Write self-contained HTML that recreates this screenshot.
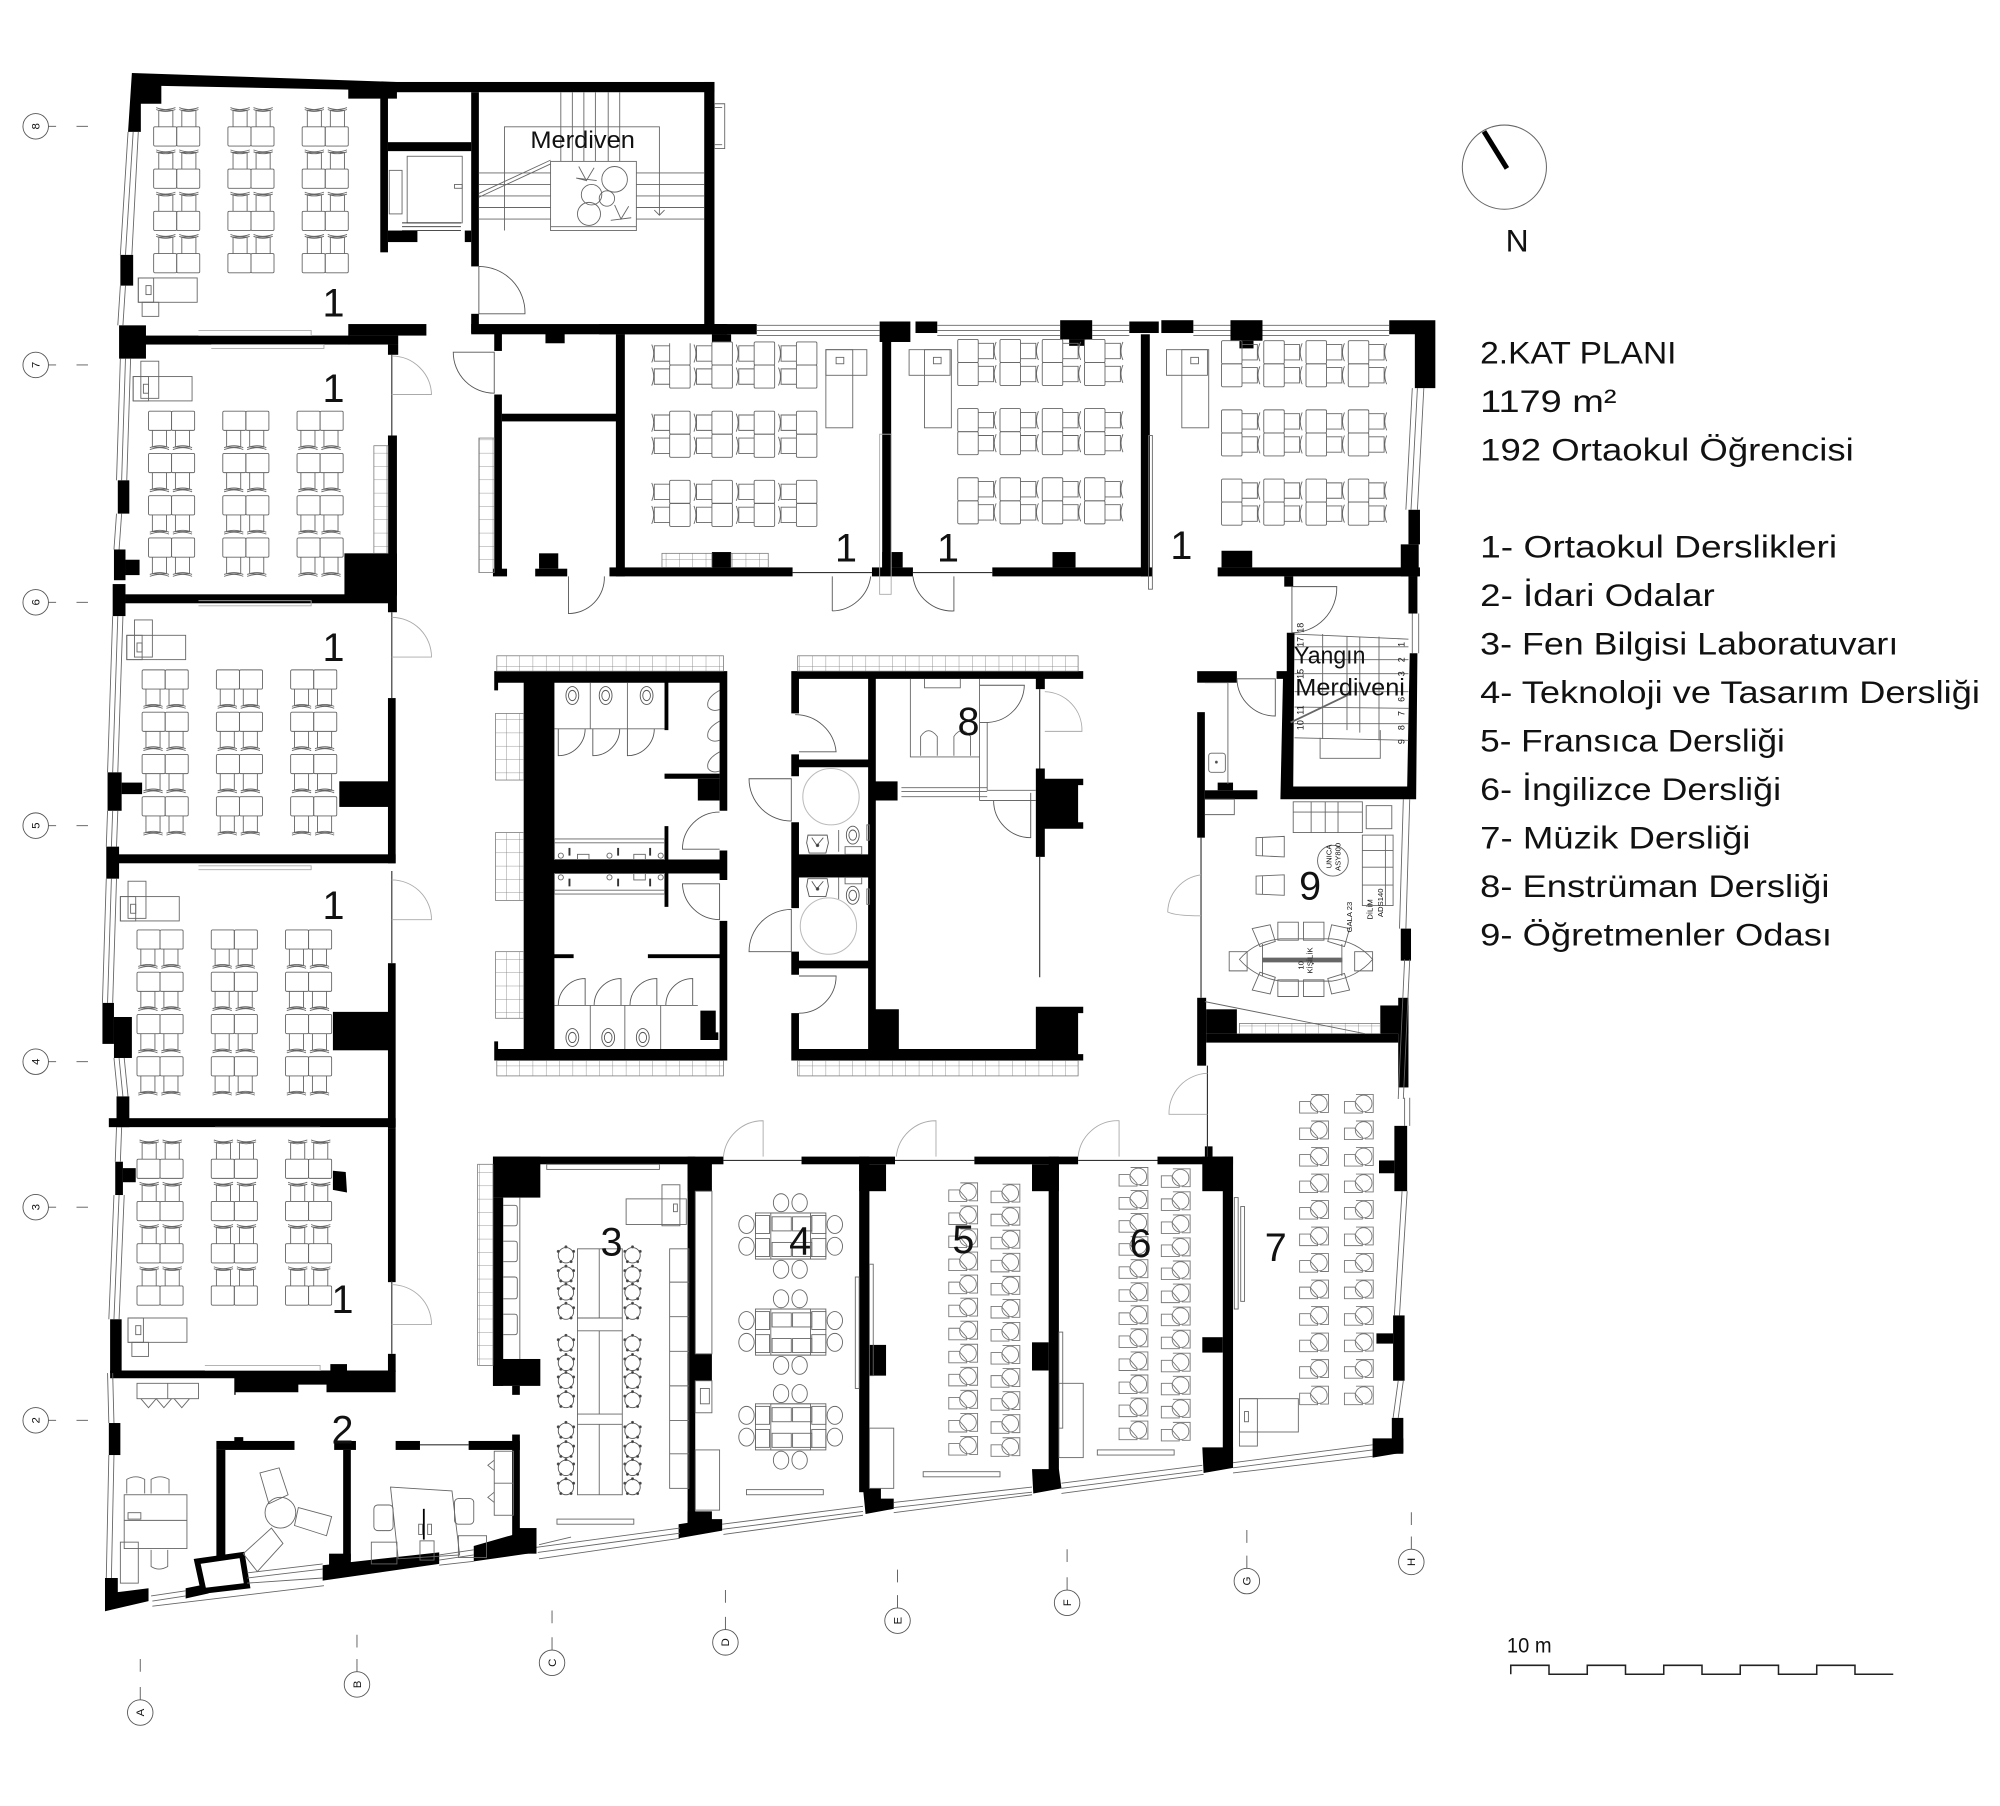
<!DOCTYPE html>
<html><head><meta charset="utf-8"><title>2.KAT PLANI</title>
<style>
html,body{margin:0;padding:0;background:#fff;width:2000px;height:1806px;overflow:hidden}
svg{display:block}
text{font-family:"Liberation Sans",sans-serif;fill:#111}
.w{fill:#000;stroke:none}
.l{fill:none;stroke:#666;stroke-width:.7}
.g{fill:none;stroke:#aaa;stroke-width:.7}
.d{fill:none;stroke:#555;stroke-width:.7}
.t{font-size:25px}
.n{font-size:31px}
.ax{font-size:9px;fill:#222}
</style></head><body>
<svg width="2000" height="1806" viewBox="0 0 1562 1410" preserveAspectRatio="none" xmlns="http://www.w3.org/2000/svg">
<defs>
<g id="pU" class="l"><rect x="0" y="17" width="18" height="15" rx="1"/><rect x="18" y="17" width="18" height="15" rx="1"/><path d="M4 17V4h11v13M2 2q7 3 15 0M2 3.5q7 3 15 0M22 17V4h11v13M20 2q7 3 15 0M20 3.5q7 3 15 0"/></g>
<g id="pD" class="l"><rect x="0" y="0" width="18" height="15" rx="1"/><rect x="18" y="0" width="18" height="15" rx="1"/><path d="M3 15v13h11V15M1 30q8-3 15 0M1 28.5q8-3 15 0M21 15v13h11V15M19 30q8-3 15 0M19 28.5q8-3 15 0"/></g>
<g id="U4"><use href="#pU"/><use href="#pU" y="33"/><use href="#pU" y="66"/><use href="#pU" y="99"/></g>
<g id="D4"><use href="#pD"/><use href="#pD" y="33"/><use href="#pD" y="66"/><use href="#pD" y="99"/></g>
<g id="U3"><use href="#U4" x="0"/><use href="#U4" x="58"/><use href="#U4" x="116"/></g>
<g id="D3"><use href="#D4" x="0"/><use href="#D4" x="58"/><use href="#D4" x="116"/></g>
<g id="cL" class="l"><rect x="15" y="0" width="16" height="18" rx="1"/><rect x="15" y="18" width="16" height="18" rx="1"/><path d="M15 3H3v12h12M1 2q3 7 0 14M15 21H3v12h12M1 20q3 7 0 14"/></g>
<g id="cR" class="l"><rect x="0" y="0" width="16" height="18" rx="1"/><rect x="0" y="18" width="16" height="18" rx="1"/><path d="M16 3h12v12H16M30 2q-3 7 0 14M16 21h12v12H16M30 20q-3 7 0 14"/></g>
<g id="rL"><use href="#cL"/><use href="#cL" x="33"/><use href="#cL" x="66"/><use href="#cL" x="99"/></g>
<g id="rR"><use href="#cR"/><use href="#cR" x="33"/><use href="#cR" x="66"/><use href="#cR" x="99"/></g>
<g id="cc" fill="none" stroke="#777" stroke-width=".7"><path d="M0 6H8L14 13V15H0Z"/><circle cx="15" cy="7.5" r="6.5"/><path d="M9 .5H22.5V14.5H16"/></g>
<g id="cc12"><use href="#cc"/><use href="#cc" y="18"/><use href="#cc" y="36"/><use href="#cc" y="54"/><use href="#cc" y="72"/><use href="#cc" y="90"/><use href="#cc" y="108"/><use href="#cc" y="126"/><use href="#cc" y="144"/><use href="#cc" y="162"/><use href="#cc" y="180"/><use href="#cc" y="198"/></g>
<g id="s7"><use href="#cc"/><use href="#cc" y="20.7"/><use href="#cc" y="41.4"/><use href="#cc" y="62.1"/><use href="#cc" y="82.8"/><use href="#cc" y="103.5"/><use href="#cc" y="124.2"/><use href="#cc" y="144.9"/><use href="#cc" y="165.6"/><use href="#cc" y="186.3"/><use href="#cc" y="207"/><use href="#cc" y="227.7"/></g>
<g id="stool" class="d"><circle r="6"/><circle cx="-6" cy="-3" r=".8" fill="#333"/><circle cx="6" cy="-3" r=".8" fill="#333"/><circle cx="-4" cy="5" r=".8" fill="#333"/><circle cx="4" cy="5" r=".8" fill="#333"/><circle cx="0" cy="-6.5" r=".8" fill="#333"/></g>
<g id="st4"><use href="#stool"/><use href="#stool" y="15"/><use href="#stool" y="29"/><use href="#stool" y="44"/></g>
<g id="tbl" class="l"><rect x="11" y="15" width="55" height="36"/><rect x="23" y="15" width="31" height="36"/><rect x="11" y="17" width="11" height="14"/><rect x="11" y="35" width="11" height="14"/><rect x="55" y="17" width="11" height="14"/><rect x="55" y="35" width="11" height="14"/><rect x="24" y="18" width="15" height="11"/><rect x="40" y="18" width="15" height="11"/><rect x="24" y="38" width="15" height="11"/><rect x="40" y="38" width="15" height="11"/>
<ellipse cx="31" cy="7" rx="6" ry="7"/><ellipse cx="45.5" cy="7" rx="6" ry="7"/><ellipse cx="4" cy="24" rx="6" ry="7"/><ellipse cx="4" cy="41" rx="6" ry="7"/><ellipse cx="73" cy="24" rx="6" ry="7"/><ellipse cx="73" cy="41" rx="6" ry="7"/><ellipse cx="31" cy="59" rx="6" ry="7"/><ellipse cx="45.5" cy="59" rx="6" ry="7"/></g>
<g id="teach" class="l"><rect x="0" y="0" width="46" height="19"/><rect x="0" y="0" width="12" height="19"/><rect x="6" y="6" width="4" height="7"/><rect x="3" y="19" width="13" height="11"/></g>
<g id="teachT" class="l"><rect x="0" y="0" width="46" height="19"/><rect x="0" y="0" width="12" height="19"/><rect x="8" y="6" width="4" height="7"/><rect x="6" y="-12" width="14" height="29"/></g>
<g id="wc" class="d"><ellipse rx="5" ry="7"/><ellipse rx="3" ry="4"/></g>
<g id="urn" class="d"><path d="M1 0H16L17 6L15 14H2L0 6Z"/><path d="M4 2L8 8L13 2"/><circle cx="8.5" cy="8" r="1" fill="#333"/></g>
<pattern id="sh" width="10.4" height="10.4" patternUnits="userSpaceOnUse"><path d="M0 0H10.4M0 0V10.4" fill="none" stroke="#777" stroke-width=".6"/></pattern>
</defs>

<!-- outer top-left and stair walls -->
<g class="w">
<polygon points="103,57 310,64 310,77 272,77 272,70 126,67 126,81 110,81 110,103 100,103"/>
<rect x="306" y="64" width="252" height="8"/>
<rect x="550" y="64" width="8" height="192"/>
<rect x="297" y="72" width="6" height="125"/>
<rect x="303" y="111" width="65" height="7"/>
<rect x="303" y="180" width="23" height="9"/><rect x="363" y="180" width="5" height="9"/>
<rect x="368" y="72" width="6" height="136"/><rect x="368" y="245" width="6" height="15"/>
<rect x="368" y="253" width="200" height="8"/>
<rect x="272" y="253" width="61" height="9"/>
<rect x="272" y="262" width="39" height="7"/><rect x="303" y="269" width="8" height="8"/>
<rect x="93" y="254" width="21" height="26"/><rect x="113" y="262" width="160" height="7"/>
<rect x="94" y="199" width="10" height="24"/>
<rect x="92" y="375" width="9" height="26"/>
<rect x="89" y="429" width="9" height="24"/><rect x="98" y="437" width="11" height="12"/>
<rect x="88" y="456" width="10" height="25"/>
<rect x="98" y="464" width="206" height="7"/>
<rect x="269" y="432" width="41" height="33"/>
<rect x="303" y="340" width="7" height="138"/>
<!-- left stack -->
<rect x="303" y="545" width="6" height="129"/>
<rect x="265" y="610" width="40" height="20"/>
<rect x="85" y="667" width="224" height="7"/>
<rect x="84" y="603" width="11" height="30"/><rect x="95" y="611" width="16" height="9"/>
<rect x="83" y="661" width="10" height="25"/>
<rect x="303" y="752" width="6" height="129"/>
<rect x="260" y="790" width="48" height="30"/>
<rect x="80" y="783" width="9" height="32"/><rect x="89" y="794" width="14" height="32"/>
<rect x="85" y="873" width="224" height="7"/>
<rect x="91" y="856" width="10" height="24"/>
<rect x="303" y="881" width="6" height="120"/>
<rect x="90" y="907" width="6" height="26"/><rect x="96" y="912" width="10" height="11"/>
<rect x="86" y="1030" width="9" height="42"/>
<path d="M86 1070H309V1087H255V1081H233V1087H184V1089H183V1076H86Z"/>
<rect x="258" y="1065" width="13" height="6"/>
<rect x="303" y="1057" width="6" height="14"/>
<polygon points="260,914 270,915 271,931 260,929"/>
<!-- offices -->
<rect x="85" y="1111" width="9" height="25"/>
<polygon points="82,1232 92,1232 92,1243 116,1240 116,1250 82,1258"/>
<polygon points="145,1240 160,1237 163,1244 145,1248"/>
<rect x="169" y="1125" width="61" height="7"/><rect x="183" y="1122" width="7" height="4"/>
<rect x="169" y="1132" width="7" height="90"/>
<rect x="261" y="1125" width="17" height="7"/>
<rect x="268" y="1132" width="6" height="86"/>
<rect x="257" y="1213" width="17" height="10"/>
<polygon points="252,1222 343,1212 343,1221 252,1234"/>
<rect x="309" y="1125" width="19" height="7"/><rect x="366" y="1125" width="40" height="7"/>
<rect x="400" y="1120" width="6" height="80"/>
<polygon points="370,1207 419,1193 419,1212 370,1219"/><rect x="403" y="1193" width="16" height="20"/>
<!-- 3 4 5 6 walls -->
<rect x="385" y="903" width="180" height="6"/>
<rect x="385" y="903" width="37" height="32"/>
<rect x="385" y="935" width="8" height="147"/>
<rect x="385" y="1061" width="37" height="21"/><rect x="400" y="1082" width="6" height="7"/>
<rect x="537" y="903" width="6" height="290"/>
<rect x="537" y="907" width="19" height="23"/><rect x="537" y="1057" width="19" height="21"/>
<polygon points="530,1190 537,1189 537,1180 556,1180 556,1186 564,1186 564,1195 530,1201"/>
<rect x="626" y="903" width="73" height="6"/>
<rect x="671" y="903" width="8" height="262"/>
<rect x="671" y="909" width="21" height="21"/><rect x="679" y="1050" width="13" height="24"/>
<polygon points="674,1162 688,1162 688,1170 698,1170 698,1178 676,1182"/>
<rect x="761" y="903" width="81" height="6"/>
<rect x="819" y="903" width="8" height="255"/>
<rect x="806" y="909" width="21" height="21"/><rect x="806" y="1048" width="13" height="22"/>
<polygon points="806,1147 819,1147 827,1147 829,1162 807,1166"/>
<rect x="904" y="903" width="59" height="6"/>
<rect x="955" y="903" width="8" height="240"/>
<rect x="939" y="903" width="24" height="27"/><rect x="939" y="1044" width="16" height="12"/>
<polygon points="939,1130 963,1130 963,1146 940,1150"/>
<rect x="941" y="895" width="6" height="8"/>
<!-- right facade -->
<rect x="1089" y="879" width="10" height="51"/><rect x="1077" y="906" width="12" height="10"/>
<rect x="1088" y="1027" width="9" height="51"/><rect x="1075" y="1041" width="13" height="8"/>
<rect x="1087" y="1107" width="9" height="28"/>
<polygon points="1072,1123 1087,1123 1096,1123 1096,1134 1072,1138"/>
<!-- top right rooms -->
<rect x="468" y="253" width="123" height="8"/>
<rect x="556" y="261" width="15" height="6"/>
<rect x="687" y="251" width="24" height="16"/>
<rect x="715" y="251" width="17" height="9"/>
<rect x="828" y="250" width="25" height="15"/><rect x="835" y="265" width="12" height="5"/>
<rect x="882" y="251" width="23" height="9"/><rect x="907" y="250" width="25" height="10"/>
<rect x="961" y="250" width="25" height="16"/><rect x="968" y="266" width="11" height="6"/>
<polygon points="1085,250 1121,250 1121,303 1105,303 1105,261 1085,261"/>
<rect x="481" y="261" width="7" height="189"/>
<rect x="689" y="265" width="7" height="180"/>
<rect x="891" y="261" width="7" height="189"/>
<rect x="476" y="443" width="143" height="7"/>
<rect x="556" y="431" width="15" height="12"/>
<rect x="681" y="443" width="32" height="7"/><rect x="689" y="431" width="16" height="12"/>
<rect x="775" y="443" width="125" height="7"/><rect x="822" y="431" width="18" height="12"/>
<rect x="951" y="443" width="158" height="7"/><rect x="954" y="430" width="24" height="13"/>
<rect x="1100" y="398" width="9" height="27"/><rect x="1094" y="425" width="14" height="25"/>
<rect x="1100" y="450" width="7" height="29"/>
<!-- under stair rooms -->
<rect x="386" y="260" width="6" height="14"/><rect x="386" y="308" width="6" height="141"/>
<rect x="392" y="323" width="90" height="6"/>
<rect x="385" y="444" width="11" height="6"/><rect x="418" y="444" width="25" height="6"/>
<rect x="421" y="432" width="15" height="12"/>
<rect x="426" y="260" width="15" height="8"/>
<!-- fire stair -->
<rect x="1003" y="450" width="7" height="8"/>
<polygon points="1005,494 1011,494 1010,614 1099,614 1101,510 1107,510 1106,624 1000,624 1002,530 997,530 997,524 1005,524"/>
<!-- room 9 -->
<rect x="935" y="524" width="31" height="9"/>
<rect x="935" y="556" width="6" height="98"/>
<rect x="941" y="617" width="41" height="7"/><rect x="951" y="611" width="12" height="6"/>
<rect x="935" y="779" width="7" height="53"/><rect x="942" y="788" width="24" height="19"/>
<rect x="942" y="807" width="150" height="7"/>
<rect x="1078" y="785" width="22" height="22"/><rect x="1092" y="779" width="8" height="70"/>
<rect x="1094" y="725" width="8" height="25"/>
<!-- WC block left -->
<path d="M386 524H568V633H562V533H522V570H519V533H433V671H519V645H522V671H562V664H568V687H562V682H522V708H519V682H433V745H448V748H433V819H562V748H506V745H562V719H568V828H386V813H389V819H409V533H389V539H386Z"/>
<rect x="519" y="604" width="43" height="4"/><rect x="545" y="608" width="17" height="17"/>
<path d="M547 789H559V806H561V812H547Z"/>
<!-- WC block right -->
<path d="M618 524H846V530H816V538H809V530H684V610H701V625H684V788H702V819H809V786H846V791H842V823H846V828H618V791H624V819H678V756H624V761H618V743H624V750H678V685H624V709H618V642H624V667H678V599H624V606H618V589H624V593H678V530H624V557H618Z"/>
<path d="M809 600H816V608H846V613H842V642H846V647H816V669H809Z"/>
</g>
<!-- stripes -->
<path d="M624 673H652L678 671V669H624ZM624 685V678H652L678 681V685Z" fill="#000"/>

<!-- tilted box -->
<polygon points="154,1219 189,1214 193,1238 159,1242" fill="#fff" stroke="#000" stroke-width="4.5"/>

<!-- facade windows -->
<g class="l">
<path d="M100 103L94 199M104 103L98 199M108 103L103 199M94 223L92 254M98 223L96 254"/>
<path d="M94 280L91 375M98 280L95 375M102 280L99 375M91 401L89 429M95 401L93 429"/>
<path d="M88 481L84 603M92 481L88 603M96 481L92 603M84 633L83 661M88 633L87 661M92 633L91 661"/>
<path d="M83 686L80 783M87 686L84 783M91 686L88 783M89 826L92 856M93 826L96 856M97 826L100 856"/>
<path d="M91 880L90 907M95 880L94 907M89 933L85 1030M93 933L89 1030M97 933L93 1030M84 1072L85 1111M88 1072L89 1111M85 1136L83 1232M89 1136L87 1232"/>
<path d="M558 81H566V116H558Z"/>
<path d="M558 84H564M558 113H564"/>
<!-- bottom facade -->
<path d="M118 1246L145 1242M119 1250L145 1246M119 1254L253 1238"/>
<path d="M193 1228L252 1221M193 1232L252 1225M193 1236L252 1232"/>
<path d="M343 1214L370 1210M343 1218L370 1214M343 1222L370 1219"/>
<path d="M419 1208L531 1193M420 1212L531 1197M421 1217L531 1201"/>
<path d="M564 1190L674 1176M564 1194L674 1180M565 1198L674 1183"/>
<path d="M698 1173L806 1161M698 1177L806 1165M698 1181L806 1167"/>
<path d="M829 1158L939 1144M829 1162L939 1148M829 1166L940 1151"/>
<path d="M963 1142L1072 1128M963 1146L1072 1132M963 1150L1072 1137"/>
<!-- right facade windows -->
<path d="M1097 857V879M1101 857V879M1095 930L1089 1027M1099 930L1093 1027M1092 1078L1088 1107M1096 1078L1092 1107"/>
<path d="M1097 749L1092 858M1101 749L1096 858M1096 624L1093 725M1101 624L1098 725"/>
<path d="M1103 303L1098 398M1107 303L1102 398M1112 303L1107 398"/>
<path d="M1103 479V510M1108 479V510"/>
<!-- top windows -->
<path d="M591 254H687M591 258H687M591 262H687"/>
<path d="M732 254H828M732 258H828M732 262H828"/>
<path d="M853 254H882M853 258H882M853 262H882"/>
<path d="M932 254H961M932 258H961M932 262H961"/>
<path d="M986 254H1085M986 258H1085M986 262H1085"/>
</g>
<!-- corridor glass -->
<g stroke="#333" stroke-width=".9" fill="none">
<path d="M306 277V340M306 478V545M306 680V752M306 1000V1057"/>
<path d="M619 447H681M713 447H775M565 906H626M699 906H761M842 906H904"/>
<path d="M812 538V600M812 669V763M938 654V779M943 832V903"/>
<path d="M328 1128H366"/>
</g>

<!-- doors -->
<g class="g">
<path d="M306 278A31 31 0 0 1 337 308H306"/>
<path d="M306 482A31 31 0 0 1 337 513H306"/>
<path d="M306 687A31 31 0 0 1 337 718H306"/>
<path d="M306 1003A31 31 0 0 1 337 1034H306"/>
<path d="M565 903A31 31 0 0 1 596 875V903"/><path d="M700 903A31 31 0 0 1 731 875V903"/><path d="M842 903A31 31 0 0 1 874 875V903"/>
<path d="M943 838A31 31 0 0 0 913 870H943"/>
<path d="M938 683A30 30 0 0 0 912 712Q918 715 938 715"/>
<path d="M816 540A30 30 0 0 1 845 571H816"/>
</g>
<g class="d">
<path d="M374 208A36 36 0 0 1 410 245H374V208"/>
<path d="M354 275H386V307A32 32 0 0 1 354 275Z"/>
<path d="M444 450V479A28 28 0 0 0 472 450"/>
<path d="M650 450V477M650 477A31 31 0 0 0 680 450" />
<path d="M713 450A31 31 0 0 0 745 477V450"/>
<path d="M1009 458H1044A35 35 0 0 1 1009 494V458"/>
<path d="M966 530H996V559A30 30 0 0 1 966 530"/>
<path d="M562 634A29 29 0 0 0 533 663H562M533 690H562V718A29 29 0 0 1 533 690Z"/>
<path d="M621 558A32 32 0 0 1 653 587H624M585 608H618V641A33 33 0 0 1 585 608ZM585 743H618V710A33 33 0 0 0 585 743ZM624 762H653A29 29 0 0 1 624 791"/>
<path d="M436 569V590A21 21 0 0 0 457 569M463 569V590A21 21 0 0 0 484 569M490 569V590A21 21 0 0 0 511 569"/>
<path d="M436 785A21 21 0 0 1 457 764V785M464 785A21 21 0 0 1 485 764V785M492 785A21 21 0 0 1 513 764V785M520 785A21 21 0 0 1 541 764V785"/>
<path d="M765 535H800A30 30 0 0 1 772 564H765M805 619V654A29 29 0 0 1 776 625H809M765 625H776"/>
</g>

<!-- shelf grids -->
<rect x="388" y="512" width="177" height="12" fill="url(#sh)" stroke="#777" stroke-width=".6"/>
<rect x="388" y="828" width="177" height="12" fill="url(#sh)" stroke="#777" stroke-width=".6"/>
<rect x="623" y="512" width="219" height="12" fill="url(#sh)" stroke="#777" stroke-width=".6"/>
<rect x="623" y="828" width="219" height="12" fill="url(#sh)" stroke="#777" stroke-width=".6"/>
<rect x="387" y="557" width="22" height="52" fill="url(#sh)" stroke="#777" stroke-width=".6"/>
<rect x="387" y="650" width="22" height="53" fill="url(#sh)" stroke="#777" stroke-width=".6"/>
<rect x="387" y="743" width="22" height="52" fill="url(#sh)" stroke="#777" stroke-width=".6"/>
<rect x="374" y="342" width="12" height="105" fill="url(#sh)" stroke="#777" stroke-width=".6"/>
<rect x="373" y="909" width="12" height="157" fill="url(#sh)" stroke="#777" stroke-width=".6"/>
<rect x="292" y="348" width="11" height="84" fill="url(#sh)" stroke="#777" stroke-width=".6"/>
<rect x="517" y="432" width="39" height="11" fill="url(#sh)" stroke="#777" stroke-width=".6"/>
<rect x="571" y="432" width="29" height="11" fill="url(#sh)" stroke="#777" stroke-width=".6"/>
<rect x="968" y="799" width="110" height="8" fill="url(#sh)" stroke="#777" stroke-width=".6"/>

<!-- classroom furniture left -->
<use href="#U3" x="120" y="82"/>
<use href="#D3" x="116" y="321"/>
<use href="#D3" x="111" y="523"/>
<use href="#D3" x="107" y="726"/>
<use href="#U3" x="107" y="888"/>
<use href="#teach" x="108" y="217"/>
<use href="#teachT" x="104" y="294"/>
<use href="#teachT" x="99" y="496"/>
<use href="#teachT" x="94" y="700"/>
<use href="#teach" x="100" y="1029"/>
<g class="g">
<path d="M155 258H243V262H155M165 269H253V272H165M155 469H243V473H155M155 676H243V679H155M160 1066H250V1070H160M168 880H250"/>
</g>
<!-- top right classrooms -->
<use href="#rL" x="508" y="267"/>
<use href="#rL" x="508" y="321"/>
<use href="#rL" x="508" y="375"/>
<rect x="510" y="262" width="40" height="6" fill="#fff"/>
<g class="l">
<rect x="645" y="273" width="21" height="61"/><rect x="645" y="273" width="32" height="20"/><rect x="653" y="279" width="6" height="5"/>
<rect x="722" y="273" width="21" height="61"/><rect x="710" y="273" width="32" height="20"/><rect x="729" y="279" width="6" height="5"/>
<rect x="923" y="273" width="21" height="61"/><rect x="911" y="273" width="32" height="20"/><rect x="930" y="279" width="6" height="5"/>
<rect x="687" y="339" width="9" height="125" stroke="#aaa"/>
<rect x="897" y="340" width="3" height="120"/>
</g>
<use href="#rR" x="748" y="265"/><use href="#rR" x="748" y="319"/><use href="#rR" x="748" y="373"/>
<use href="#rR" x="954" y="266"/><use href="#rR" x="954" y="320"/><use href="#rR" x="954" y="374"/>

<!-- room 3 -->
<g class="l">
<rect x="451" y="975" width="35" height="192"/><path d="M468 975V1029M468 1039V1104M468 1112V1167M451 1029H486M451 1039H486M451 1104H486M451 1112H486"/>
<rect x="523" y="975" width="15" height="187"/><path d="M523 1001H538M523 1028H538M523 1055H538M523 1082H538M523 1109H538M523 1135H538"/>
<rect x="427" y="909" width="88" height="4"/>
<rect x="435" y="1186" width="60" height="4"/>
<rect x="489" y="936" width="47" height="20"/><rect x="517" y="925" width="14" height="32"/><rect x="526" y="940" width="3" height="6"/>
<path d="M406 935V1061M393 941h9q2 0 2 2v12q0 2-2 2h-9M393 969h9q2 0 2 2v12q0 2-2 2h-9M393 997h9q2 0 2 2v13q0 2-2 2h-9M393 1026h9q2 0 2 2v12q0 2-2 2h-9"/>
</g>
<use href="#st4" x="442" y="980"/><use href="#st4" x="494" y="980"/>
<use href="#st4" x="442" y="1049"/><use href="#st4" x="494" y="1049"/>
<use href="#st4" x="442" y="1117"/><use href="#st4" x="494" y="1117"/>
<!-- room 4 -->
<use href="#tbl" x="579" y="932"/><use href="#tbl" x="579" y="1007"/><use href="#tbl" x="579" y="1081"/>
<g class="l">
<rect x="543" y="930" width="13" height="127"/>
<rect x="543" y="1078" width="13" height="25"/><rect x="547" y="1084" width="7" height="12"/>
<rect x="543" y="1132" width="19" height="47"/>
<rect x="583" y="1163" width="60" height="4"/>
<rect x="668" y="997" width="3" height="87"/>
<rect x="679" y="987" width="3" height="87"/>
<rect x="679" y="1115" width="19" height="47"/>
<rect x="721" y="1149" width="60" height="4"/>
<rect x="827" y="1040" width="3" height="75"/>
<rect x="827" y="1080" width="19" height="58"/>
<rect x="857" y="1132" width="60" height="4"/>
<rect x="964" y="935" width="3" height="87"/><rect x="969" y="942" width="3" height="74"/>
<rect x="968" y="1092" width="46" height="26"/><rect x="968" y="1092" width="14" height="37"/><rect x="972" y="1102" width="3" height="8"/>
</g>
<!-- rooms 5 6 7 seats -->
<use href="#cc12" x="741" y="923"/><use href="#cc12" x="774" y="924"/>
<use href="#cc12" x="874" y="911"/><use href="#cc12" x="907" y="912"/>
<use href="#s7" x="1015" y="854"/><use href="#s7" x="1050" y="854"/>
<!-- office furniture -->
<g class="l">
<rect x="97" y="1167" width="49" height="42"/><path d="M97 1187H146"/><rect x="100" y="1181" width="10" height="5"/>
<path d="M99 1166V1155q7-4 14 0V1166M118 1166V1155q7-4 14 0V1166"/>
<path d="M118 1210v13q6 4 13 0v-13"/><rect x="94" y="1204" width="14" height="32"/>
<rect x="107" y="1080" width="48" height="12"/><path d="M131 1080V1092M110 1092l6 7l6-7l6 7l6-7M136 1092l6 7l6-7"/>
<circle cx="219" cy="1181" r="12"/>
<path d="M203 1150l15-4l7 21l-15 7zM233 1177l26 7l-4 15l-25-8zM190 1213l22-20l9 12l-20 22z"/>
<polygon points="305,1161 353,1164 359,1214 311,1217"/>
<path d="M331 1178V1202" stroke="#000" stroke-width="1.4"/><rect x="327" y="1190" width="3" height="8"/><rect x="334" y="1190" width="3" height="8"/><rect x="328" y="1203" width="11" height="15"/>
<rect x="292" y="1175" width="15" height="20" rx="3"/><rect x="355" y="1170" width="15" height="20" rx="3"/>
<rect x="290" y="1204" width="20" height="17"/><rect x="358" y="1199" width="22" height="17"/>
<rect x="386" y="1133" width="15" height="50"/><path d="M386 1158H401M386 1140l-5 4l5 4M386 1165l-5 4l5 4"/>
<path d="M421 1206l25-6"/>
</g>
<!-- WC fixtures -->
<use href="#wc" x="447" y="543"/><use href="#wc" x="473" y="543"/><use href="#wc" x="505" y="543"/>
<use href="#wc" x="447" y="810"/><use href="#wc" x="475" y="810"/><use href="#wc" x="502" y="810"/>
<use href="#wc" x="666" y="652"/><use href="#wc" x="666" y="699"/>
<use href="#urn" x="630" y="652"/><use href="#urn" x="630" y="686"/>
<g class="l">
<path d="M433 569H519M461 533V569M490 533V569M433 785H545M461 785V819M488 785V819M516 785V819"/>
<rect x="433" y="655" width="86" height="16"/><rect x="433" y="682" width="86" height="16"/>
<path d="M433 658H519M433 695H519"/>
<circle cx="438" cy="668" r="2"/><circle cx="476" cy="668" r="2"/><circle cx="516" cy="668" r="2"/>
<circle cx="438" cy="685" r="2"/><circle cx="476" cy="685" r="2"/><circle cx="516" cy="685" r="2"/>
<rect x="451" y="667" width="9" height="4"/><rect x="495" y="667" width="9" height="4"/><rect x="495" y="682" width="9" height="5"/>
<path d="M562 539q-11 6-9 13q3 4 9 2M562 563q-11 6-9 13q3 4 9 2M562 587q-11 6-9 13q3 4 9 2"/>
<path d="M655 648V665M655 685V702M660 661H673V667H660ZM660 685H673V690H660ZM677 644h2v12h-2ZM677 694h2v12h-2Z"/>
<path d="M711 530V591H765V530M765 530V625M771 564V617H809M704 615H771M704 618H771M704 622H771"/>
<path d="M722 530V537H750V530"/>
<path d="M719 590V575q6-9 13 0V590M745 590V575q6-9 13 0V590"/>
</g>
<g fill="#333"><rect x="444" y="662" width="1.5" height="6"/><rect x="482" y="662" width="1.5" height="6"/><rect x="507" y="662" width="1.5" height="6"/><rect x="444" y="686" width="1.5" height="6"/><rect x="482" y="686" width="1.5" height="6"/><rect x="507" y="686" width="1.5" height="6"/></g>
<circle cx="649" cy="622" r="22" fill="none" stroke="#bbb" stroke-width=".8"/>
<circle cx="647" cy="723" r="22" fill="none" stroke="#bbb" stroke-width=".8"/>

<!-- stair -->
<g class="l">
<path d="M438 72V126M447 72V126M456 72V126M465 72V126M475 72V126M484 72V126"/>
<path d="M374 135H430M374 144H430M374 153H430M374 162H430M374 171H430M497 135H550M497 144H550M497 153H550M497 162H550M497 171H550"/>
<path d="M394 180V99H515V168M511 164l4 4l4-4M374 151L430 125M374 154L430 128"/>
<rect x="430" y="126" width="67" height="54"/><path d="M430 177H497"/>
<rect x="318" y="122" width="43" height="52"/><rect x="304" y="133" width="10" height="34"/><rect x="355" y="144" width="6" height="3"/>
<path d="M314 174H360M314 177H360M314 180H360" stroke="#333"/>
<circle cx="480" cy="140" r="10"/><circle cx="462" cy="152" r="8"/><circle cx="474" cy="155" r="6"/><circle cx="460" cy="167" r="9"/>
<path d="M452 130l6 11l6-10M458 141l-8-2l16 2M480 160l5 11l6-10M485 171l-8 1l16-2"/>
</g>
<!-- fire stair lines -->
<g class="l">
<path d="M1011 495L1100 499M1011 505H1100M1011 515H1100M1011 526H1100M1011 540H1100M1011 552L1100 553M1011 565H1100M1011 576L1100 578"/>
<path d="M1033 495V577M1052 497V570M1062 497V572M1077 497V578"/>
<path d="M1031 576V592H1078V570"/>
</g>
<path d="M1008 564L1054 542" stroke="#666" stroke-width="1.4" fill="none"/>
<g fill="#222">
<text x="1018" y="494" transform="rotate(-90 1018 494)" style="font-size:7px">18</text>
<text x="1018" y="505" transform="rotate(-90 1018 505)" style="font-size:7px">17</text>
<text x="1018" y="530" transform="rotate(-90 1018 530)" style="font-size:7px">15</text>
<text x="1018" y="558" transform="rotate(-90 1018 558)" style="font-size:7px">11</text>
<text x="1018" y="570" transform="rotate(-90 1018 570)" style="font-size:7px">10</text>
<text x="1097" y="505" transform="rotate(-90 1097 505)" style="font-size:7px">1</text>
<text x="1097" y="517" transform="rotate(-90 1097 517)" style="font-size:7px">2</text>
<text x="1097" y="528" transform="rotate(-90 1097 528)" style="font-size:7px">3</text>
<text x="1097" y="548" transform="rotate(-90 1097 548)" style="font-size:7px">6</text>
<text x="1097" y="559" transform="rotate(-90 1097 559)" style="font-size:7px">7</text>
<text x="1097" y="570" transform="rotate(-90 1097 570)" style="font-size:7px">8</text>
<text x="1097" y="581" transform="rotate(-90 1097 581)" style="font-size:7px">9</text>
</g>

<!-- room 9 furniture -->
<g class="l">
<path d="M941 533H959V612M941 624H964V636H941"/>
<rect x="944" y="588" width="13" height="15" rx="2"/><circle cx="950" cy="595" r=".8" fill="#333"/>
<rect x="1010" y="626" width="54" height="24"/><path d="M1024 626V650M1035 626V650M1045 626V650M1010 634H1064"/>
<rect x="1067" y="629" width="20" height="18"/>
<rect x="1064" y="652" width="24" height="55"/><path d="M1082 652V707M1064 664H1088M1064 677H1088M1064 691H1088"/>
<polygon points="981,654 1003,653 1003,669 981,668"/><path d="M986 654V668"/>
<polygon points="981,684 1003,683 1003,699 981,698"/><path d="M986 684V698"/>
<circle cx="1041" cy="672" r="12"/>
<path d="M941 782L1066 807"/>
<path d="M968 749Q980 735 1000 733H1040Q1060 735 1072 749Q1060 763 1040 766H1000Q980 763 968 749Z"/>
<path d="M986 737V762M1048 737V762"/>
<rect x="986" y="748" width="62" height="3" fill="#666"/>
<path d="M960 743h14v15h-14zM1058 743h14v15h-14zM978 725l14-3l4 13l-12 4zM998 720h16v14h-16zM1018 720h16v14h-16zM1040 722l14 3l-4 14l-13-4zM978 773l14 3l4-13l-12-4zM998 778h16v-13h-16zM1018 778h16v-13h-16zM1040 776l14-3l-4-13l-13 4z"/>
</g>
<g>
<text transform="translate(1040 678) rotate(-90)" style="font-size:6px">UNICA</text>
<text transform="translate(1047 680) rotate(-90)" style="font-size:6px">ASY800</text>
<text transform="translate(1072 718) rotate(-90)" style="font-size:6px">DİLİM</text>
<text transform="translate(1080 716) rotate(-90)" style="font-size:6px">ADS140</text>
<text transform="translate(1056 728) rotate(-90)" style="font-size:6px">GALA 23</text>
<text transform="translate(1018 757) rotate(-90)" style="font-size:6px">10</text>
<text transform="translate(1025 760) rotate(-90)" style="font-size:6px">KİŞİLİK</text>
</g>

<g transform="scale(.9957 .9963)">
<!-- grid axes -->
<g class="d">
<circle cx="28" cy="99" r="10"/><circle cx="28" cy="286" r="10"/><circle cx="28" cy="472" r="10"/><circle cx="28" cy="647" r="10"/><circle cx="28" cy="832" r="10"/><circle cx="28" cy="946" r="10"/><circle cx="28" cy="1113" r="10"/>
<circle cx="110" cy="1342" r="10"/><circle cx="280" cy="1320" r="10"/><circle cx="433" cy="1303" r="10"/><circle cx="569" cy="1287" r="10"/><circle cx="704" cy="1270" r="10"/><circle cx="837" cy="1256" r="10"/><circle cx="978" cy="1239" r="10"/><circle cx="1107" cy="1224" r="10"/>
<path d="M38 99H44M60 99H69M38 286H44M60 286H69M38 472H44M60 472H69M38 647H44M60 647H69M38 832H44M60 832H69M38 946H44M60 946H69M38 1113H44M60 1113H69"/>
<path d="M110 1332V1322M110 1310V1300M280 1310V1300M280 1291V1281M433 1293V1283M433 1272V1262M569 1277V1267M569 1256V1246M704 1260V1250M704 1240V1230M837 1246V1236M837 1224V1214M978 1229V1219M978 1209V1199M1107 1214V1204M1107 1195V1185"/>
</g>
<g class="ax">
<text transform="translate(31 99) rotate(-90)" text-anchor="middle" style="font-size:9px">8</text>
<text transform="translate(31 286) rotate(-90)" text-anchor="middle" style="font-size:9px">7</text>
<text transform="translate(31 472) rotate(-90)" text-anchor="middle" style="font-size:9px">6</text>
<text transform="translate(31 647) rotate(-90)" text-anchor="middle" style="font-size:9px">5</text>
<text transform="translate(31 832) rotate(-90)" text-anchor="middle" style="font-size:9px">4</text>
<text transform="translate(31 946) rotate(-90)" text-anchor="middle" style="font-size:9px">3</text>
<text transform="translate(31 1113) rotate(-90)" text-anchor="middle" style="font-size:9px">2</text>
<text transform="translate(113 1342) rotate(-90)" text-anchor="middle" style="font-size:9px">A</text>
<text transform="translate(283 1320) rotate(-90)" text-anchor="middle" style="font-size:9px">B</text>
<text transform="translate(436 1303) rotate(-90)" text-anchor="middle" style="font-size:9px">C</text>
<text transform="translate(572 1287) rotate(-90)" text-anchor="middle" style="font-size:9px">D</text>
<text transform="translate(707 1270) rotate(-90)" text-anchor="middle" style="font-size:9px">E</text>
<text transform="translate(840 1256) rotate(-90)" text-anchor="middle" style="font-size:9px">F</text>
<text transform="translate(981 1239) rotate(-90)" text-anchor="middle" style="font-size:9px">G</text>
<text transform="translate(1110 1224) rotate(-90)" text-anchor="middle" style="font-size:9px">H</text>
</g>

<!-- compass -->
<circle cx="1180" cy="131" r="33" fill="none" stroke="#666" stroke-width=".8"/>
<path d="M1164 103L1182 132" stroke="#000" stroke-width="4" fill="none"/>
<text x="1181" y="197" style="font-size:25px">N</text>

<!-- scale -->
<path d="M1185 1312V1305H1215V1312H1245V1305H1275V1312H1305V1305H1335V1312H1365V1305H1395V1312H1425V1305H1455V1312H1485" fill="none" stroke="#222" stroke-width="1.2"/>
<text x="1182" y="1295" textLength="35" lengthAdjust="spacingAndGlyphs" style="font-size:17px">10 m</text>

<!-- room numbers -->
<g class="n">
<text x="253" y="248">1</text><text x="253" y="315">1</text><text x="253" y="518">1</text><text x="253" y="720">1</text><text x="260" y="1029">1</text>
<text x="655" y="440">1</text><text x="735" y="440">1</text><text x="918" y="438">1</text>
<text x="260" y="1131">2</text><text x="471" y="984">3</text><text x="619" y="983">4</text><text x="747" y="982">5</text><text x="886" y="985">6</text><text x="992" y="988">7</text><text x="751" y="576">8</text><text x="1019" y="705">9</text>
</g>
<text x="416" y="116" textLength="82" lengthAdjust="spacingAndGlyphs" style="font-size:19px">Merdiven</text>
<text x="1015" y="520" textLength="56" lengthAdjust="spacingAndGlyphs" style="font-size:19px">Yangın</text>
<text x="1016" y="545" textLength="86" lengthAdjust="spacingAndGlyphs" style="font-size:19px">Merdiveni</text>

<!-- legend -->
<g class="t">
<text x="1161" y="285" textLength="154" lengthAdjust="spacingAndGlyphs">2.KAT PLANI</text>
<text x="1161" y="323" textLength="107" lengthAdjust="spacingAndGlyphs">1179 m²</text>
<text x="1161" y="361" textLength="293" lengthAdjust="spacingAndGlyphs">192 Ortaokul Öğrencisi</text>
<text x="1161" y="437" textLength="280" lengthAdjust="spacingAndGlyphs">1- Ortaokul Derslikleri</text>
<text x="1161" y="475" textLength="184" lengthAdjust="spacingAndGlyphs">2- İdari Odalar</text>
<text x="1161" y="513" textLength="328" lengthAdjust="spacingAndGlyphs">3- Fen Bilgisi Laboratuvarı</text>
<text x="1161" y="551" textLength="392" lengthAdjust="spacingAndGlyphs">4- Teknoloji ve Tasarım Dersliği</text>
<text x="1161" y="589" textLength="239" lengthAdjust="spacingAndGlyphs">5- Fransıca Dersliği</text>
<text x="1161" y="627" textLength="236" lengthAdjust="spacingAndGlyphs">6- İngilizce Dersliği</text>
<text x="1161" y="665" textLength="212" lengthAdjust="spacingAndGlyphs">7- Müzik Dersliği</text>
<text x="1161" y="703" textLength="274" lengthAdjust="spacingAndGlyphs">8- Enstrüman Dersliği</text>
<text x="1161" y="741" textLength="276" lengthAdjust="spacingAndGlyphs">9- Öğretmenler Odası</text>
</g>
</g>
</svg>
</body></html>
